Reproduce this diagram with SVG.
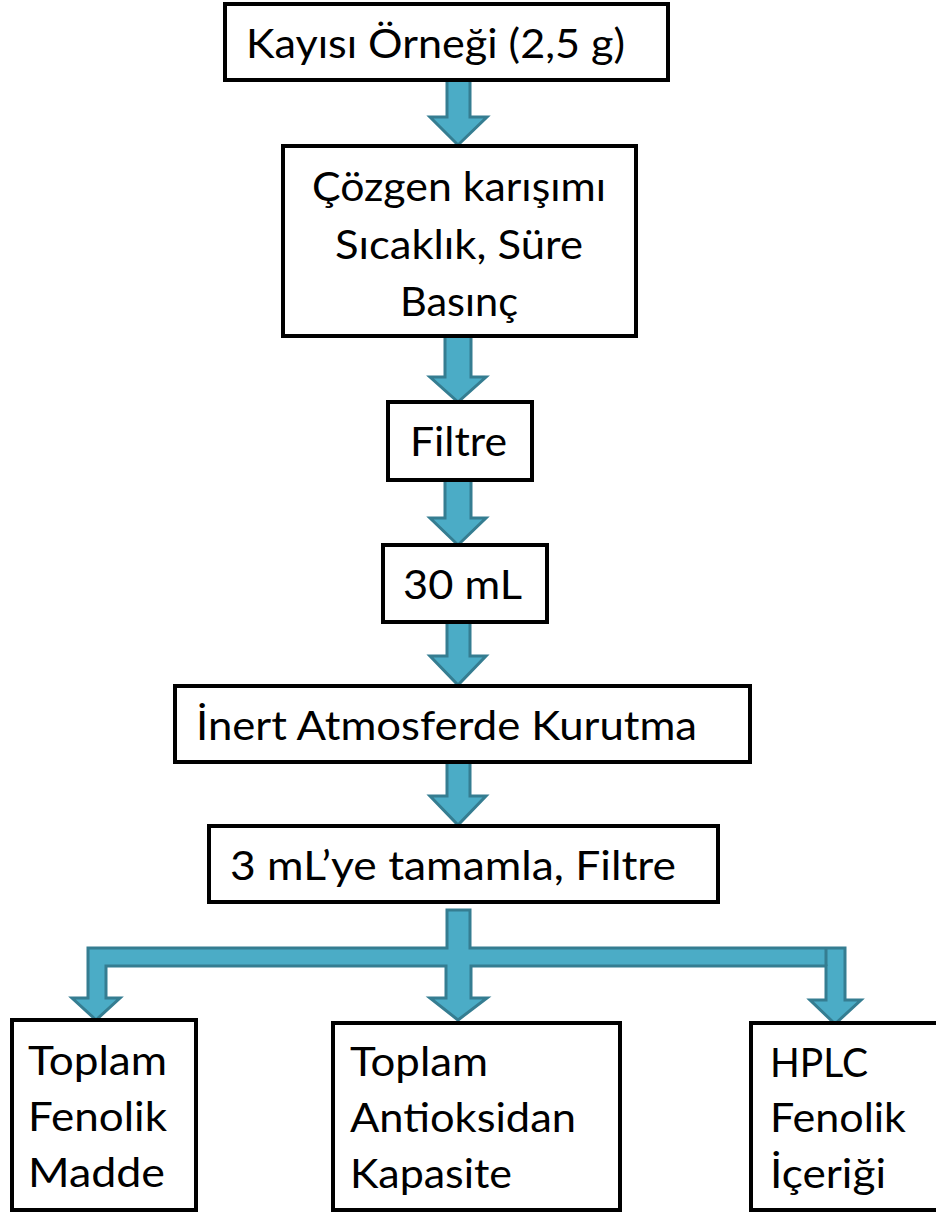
<svg xmlns="http://www.w3.org/2000/svg" width="936" height="1214" viewBox="0 0 936 1214">
<style>
.box{fill:#fff;stroke:#000;stroke-width:4}
.arr{fill:#4BACC6;stroke:#357D91;stroke-width:3;stroke-linejoin:miter}
.t{font-family:Lato,"Open Sans","Liberation Sans",sans-serif;font-size:40px;fill:#000}
</style>
<g id="connectors">
<polygon class="arr" points="447,80 470,80 470,117 487,117 458,145 430,117 447,117"/>
<polygon class="arr" points="445,336 471,336 471,377 486,377 458,402 430,377 445,377"/>
<polygon class="arr" points="445,480 471,480 471,518 486,518 458,545 430,518 445,518"/>
<polygon class="arr" points="447,622 470,622 470,656 486,656 458,685 430,656 447,656"/>
<polygon class="arr" points="447,762 470,762 470,796 486,796 458,825 430,796 447,796"/>
<path class="arr" d="M447,910 L470,910 L470,948 L845,948 L845,1000 L861,1000 L835,1024 L810,1000 L826,1000 L826,966 L471,966 L471,998 L487,998 L458,1020 L430,998 L446,998 L446,966 L106,966 L106,998 L120,998 L96,1020 L72,998 L88,998 L88,948 L447,948 Z"/>
<line x1="826" y1="949" x2="826" y2="966" stroke="#357D91" stroke-width="3"/>
</g>
<g id="n1"><rect class="box" x="225" y="4" width="443" height="76"/><text class="t" x="246" y="58" textLength="379" lengthAdjust="spacingAndGlyphs">Kayısı Örneği (2,5 g)</text></g>
<g id="n2"><rect class="box" x="283" y="146" width="353" height="190"/>
<text class="t" x="312" y="201" textLength="294" lengthAdjust="spacingAndGlyphs">Çözgen karışımı</text>
<text class="t" x="335" y="259" textLength="248" lengthAdjust="spacingAndGlyphs">Sıcaklık, Süre</text>
<text class="t" x="400" y="316" textLength="118" lengthAdjust="spacingAndGlyphs">Basınç</text></g>
<g id="n3"><rect class="box" x="388" y="402" width="144" height="78"/><text class="t" x="410" y="456" textLength="97" lengthAdjust="spacingAndGlyphs">Filtre</text></g>
<g id="n4"><rect class="box" x="383" y="545" width="164" height="77"/><text class="t" x="403" y="599" textLength="119" lengthAdjust="spacingAndGlyphs">30 mL</text></g>
<g id="n5"><rect class="box" x="175" y="686" width="575" height="76"/><text class="t" x="196" y="740" textLength="501" lengthAdjust="spacingAndGlyphs">İnert Atmosferde Kurutma</text></g>
<g id="n6"><rect class="box" x="209" y="826" width="509" height="76"/><text class="t" x="230" y="880" textLength="446" lengthAdjust="spacingAndGlyphs">3 mL’ye tamamla, Filtre</text></g>
<g id="n7"><rect class="box" x="12" y="1020" width="184" height="190"/>
<text class="t" x="28" y="1075" textLength="139" lengthAdjust="spacingAndGlyphs">Toplam</text>
<text class="t" x="28" y="1131" textLength="139" lengthAdjust="spacingAndGlyphs">Fenolik</text>
<text class="t" x="28" y="1187" textLength="137" lengthAdjust="spacingAndGlyphs">Madde</text></g>
<g id="n8"><rect class="box" x="333" y="1023" width="287" height="187"/>
<text class="t" x="350" y="1076" textLength="138" lengthAdjust="spacingAndGlyphs">Toplam</text>
<text class="t" x="350" y="1132" textLength="226" lengthAdjust="spacingAndGlyphs">Antioksidan</text>
<text class="t" x="350" y="1188" textLength="162" lengthAdjust="spacingAndGlyphs">Kapasite</text></g>
<g id="n9"><rect class="box" x="751" y="1023" width="192" height="187"/>
<text class="t" x="770" y="1077" textLength="98" lengthAdjust="spacingAndGlyphs">HPLC</text>
<text class="t" x="770" y="1132" textLength="136" lengthAdjust="spacingAndGlyphs">Fenolik</text>
<text class="t" x="770" y="1188" textLength="116" lengthAdjust="spacingAndGlyphs">İçeriği</text></g>
</svg>
